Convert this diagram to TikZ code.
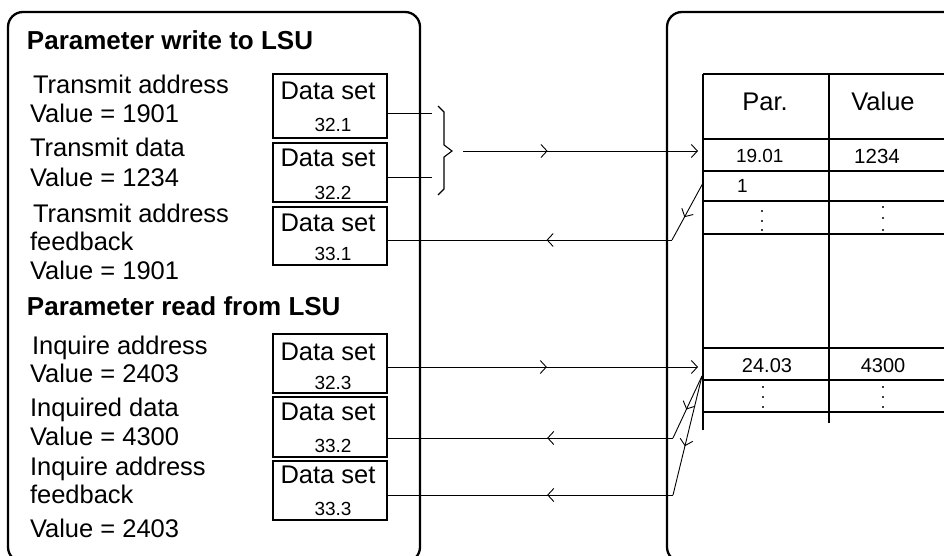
\documentclass[tikz,border=0pt]{standalone}
\usepackage{fontspec}
\setmainfont{Liberation Sans}
\usetikzlibrary{arrows.meta,decorations.markings}
\tikzset{
  every node/.style={inner sep=0pt, outer sep=0pt},
  txt/.style={anchor=base west, font=\fontsize{25.5}{30}\selectfont},
  hdr/.style={anchor=base west, font=\fontsize{26}{30}\selectfont\bfseries},
  dsbox/.style={draw, line width=1.3pt, minimum width=114pt, minimum height=#1},
  dstxt/.style={anchor=base, font=\fontsize{25.5}{30}\selectfont},
  dsnum/.style={anchor=base, font=\fontsize{19}{22}\selectfont},
  tabtxt/.style={anchor=base, font=\fontsize{25.5}{30}\selectfont},
  celltxt/.style={font=\fontsize{#1}{22}\selectfont},
  frame/.style={draw, line width=2.3pt, rounded corners=15pt},
  grid/.style={line width=1.2pt},
  conn/.style={line width=0.9pt},
  chev/.style={-{Straight Barb[length=6pt,width=13pt]}},
  marr/.style={postaction={decorate}, decoration={markings,
     mark=at position #1 with {\arrow{Straight Barb[length=6pt,width=13pt]}}}},
  dotty/.style={fill=black!75, minimum size=1.1pt, inner sep=0pt}
}
\begin{document}
\begin{tikzpicture}[x=1pt, y=-1pt]
\useasboundingbox (0,0) rectangle (944,556);
\clip (0,0) rectangle (944,556);

% outer frames
\draw[frame] (8,12) rectangle (420,562);
\draw[frame] (667,12) rectangle (990,562);

% left texts
\node[hdr] (h1) at (27,50) {Parameter write to LSU};
\node[txt] (t1) at (33,94) {Transmit address};
\node[txt] (t2) at (30,123) {Value = 1901};
\node[txt] (t3) at (30,157) {Transmit data};
\node[txt] (t4) at (30,186) {Value = 1234};
\node[txt] (t5) at (33,222) {Transmit address};
\node[txt] (t6) at (30,250) {feedback};
\node[txt] (t7) at (30,279) {Value = 1901};
\node[hdr] (h2) at (27,315) {Parameter read from LSU};
\node[txt] (r1) at (32,354) {Inquire address};
\node[txt] (r2) at (30,382) {Value = 2403};
\node[txt] (r3) at (30,416) {Inquired data};
\node[txt] (r4) at (30,445) {Value = 4300};
\node[txt] (r5) at (30,475) {Inquire address};
\node[txt] (r6) at (30,503) {feedback};
\node[txt] (r7) at (30,537) {Value = 2403};

% data set boxes
\node[dsbox=64pt] (ds1) at (330,106) {};
\node[dsbox=59pt] (ds2) at (330,172.5) {};
\node[dsbox=58pt] (ds3) at (330,236) {};
\node[dsbox=59pt] (ds4) at (330,363.5) {};
\node[dsbox=60pt] (ds5) at (330,427) {};
\node[dsbox=59pt] (ds6) at (330,490.5) {};
\node[dstxt] (d1a) at (328,100) {Data set};
\node[dsnum] (d1b) at (333,132) {32.1};
\node[dstxt] (d2a) at (328,167) {Data set};
\node[dsnum] (d2b) at (333,199) {32.2};
\node[dstxt] (d3a) at (328,231) {Data set};
\node[dsnum] (d3b) at (333,260) {33.1};
\node[dstxt] (d4a) at (328,360) {Data set};
\node[dsnum] (d4b) at (333,389) {32.3};
\node[dstxt] (d5a) at (328,420) {Data set};
\node[dsnum] (d5b) at (333,452) {33.2};
\node[dstxt] (d6a) at (328,483) {Data set};
\node[dsnum] (d6b) at (333,515) {33.3};

% table
\draw[grid] (703,74) -- (703,430);
\draw[grid] (829,74) -- (829,423);
\foreach \yy in {74,139,171,201,234,348,380,412}
  \draw[grid] (703,\yy) -- (960,\yy);
\node[tabtxt] (par) at (765,111) {Par.};
\node[tabtxt] (val) at (883,111) {Value};
\node[celltxt=19, anchor=base west] (c1) at (736,163) {19.01};
\node[celltxt=20.5, anchor=base] (c2) at (877,164) {1234};
\node[celltxt=19, anchor=base west] (c3) at (737,193) {1};
\node[celltxt=20, anchor=base] (c4) at (767,372) {24.03};
\node[celltxt=20, anchor=base] (c5) at (883,372) {4300};
\foreach \p in {(762,211),(762,221),(762,230),(883,207),(883,218),(883,230),
                (763,387),(763,397),(763,407),(883,387),(883,397),(883,407)}
  \node[dotty] at \p {};

% connector points
\coordinate (b1) at (432,113);
\coordinate (b2) at (432,177);
\coordinate (bo) at (463,151);
\coordinate (in1) at (698,151);
\coordinate (fb1) at (703,183);
\coordinate (k1) at (672,240);
\coordinate (in2) at (698,367);
\coordinate (fb2) at (702,376);
\coordinate (k2) at (673,438);
\coordinate (k3) at (673,495);

% write connectors
\draw[conn] ([yshift=-7pt]ds1.east) -- (b1);
\draw[conn] ([yshift=-4.5pt]ds2.east) -- (b2);
\draw[conn, line width=1.1pt] (438,106) -- (444,112) -- (444,145) -- (452,151)
   -- (444,157) -- (444,189) -- (438,195);
\draw[conn, chev, marr=0.36] (bo) -- (in1);
\draw[conn, marr=0.6] (fb1) -- (k1);
\draw[conn, marr=0.44] (k1) -- ([yshift=-4pt]ds3.east);

% read connectors
\draw[conn, chev, marr=0.514] ([yshift=-3.5pt]ds4.east) -- (in2);
\draw[conn, marr=0.54] (fb2) -- (k2);
\draw[conn, marr=0.44] (k2) -- ([yshift=-11pt]ds5.east);
\draw[conn, marr=0.59] (fb2) -- (k3);
\draw[conn, marr=0.44] (k3) -- ([yshift=-4.5pt]ds6.east);
\end{tikzpicture}
\end{document}
